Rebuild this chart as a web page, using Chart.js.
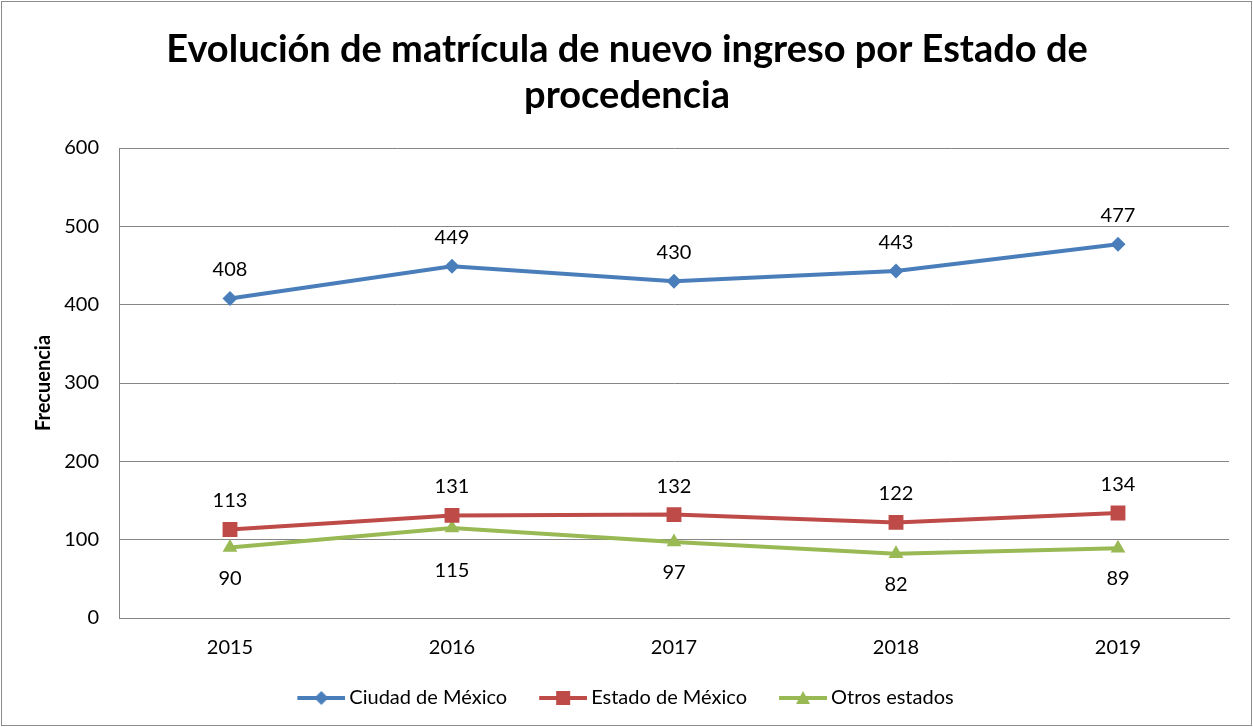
<!DOCTYPE html>
<html><head><meta charset="utf-8">
<script src="https://cdn.jsdelivr.net/npm/chart.js@4.4.1/dist/chart.umd.min.js"></script>
<style>html,body{margin:0;padding:0;background:#fff}#wrap{width:1253px;height:727px;position:relative}</style>
</head><body><div id="wrap"><canvas id="c" width="1253" height="727"></canvas></div>
<script>
const years = ['2015','2016','2017','2018','2019'];
const cdmx = [408, 449, 430, 443, 477];
const edomex = [113, 131, 132, 122, 134];
const otros = [90, 115, 97, 82, 89];
const seriesNames = ['Ciudad de México','Estado de México','Otros estados'];
const yTicks = [0,100,200,300,400,500,600];
const titleLines = ['Evolución de matrícula de nuevo ingreso por Estado de','procedencia'];
const yTitle = 'Frecuencia';

const FONT = 'Lato, "Open Sans", sans-serif';
const colors = ['#4a7ebb','#be4b48','#98b954'];
const styles = ['rectRot','rect','triangle'];
const radii = [7.5,10.5,8.5];
const BOXW = 64;
// manual label nudges (style only): dataset 2, point 1 label sits lower
const labelNudge = {'2-1': 12};

function legendImg(i){
  const W = BOXW + 12;
  const c = document.createElement('canvas');
  c.width = W; c.height = 18;
  const g = c.getContext('2d');
  const x0 = W - 48;
  g.strokeStyle = colors[i]; g.lineWidth = 4;
  g.beginPath(); g.moveTo(x0,9); g.lineTo(W,9); g.stroke();
  g.fillStyle = colors[i];
  const m = x0 + 24;
  g.beginPath();
  if (i===0){ g.moveTo(m,9-7); g.lineTo(m+7,9); g.lineTo(m,9+7); g.lineTo(m-7,9); }
  else if (i===1){ g.rect(m-7,9-7,14,14); }
  else { g.moveTo(m,9-7); g.lineTo(m+7,9+6); g.lineTo(m-7,9+6); }
  g.closePath(); g.fill();
  return c;
}

const frame = {
  id:'frame',
  beforeDraw(chart){
    const ctx = chart.ctx;
    ctx.save(); ctx.fillStyle='#fff'; ctx.fillRect(0,0,chart.width,chart.height);
    ctx.strokeStyle='#8c8c8c'; ctx.lineWidth=1;
    ctx.strokeRect(1.5,1.5,chart.width-3,chart.height-3);
    ctx.fillStyle='#000'; ctx.font='bold 38px ' + FONT;
    ctx.textAlign='center'; ctx.textBaseline='middle';
    titleLines.forEach((t,i)=>ctx.fillText(t, 627, 50 + i*46));
    ctx.restore();
  }
};
const labels = {
  id:'dlabels',
  afterDatasetsDraw(chart){
    const ctx = chart.ctx;
    ctx.save();
    ctx.font = '20px ' + FONT; ctx.fillStyle = '#000'; ctx.textAlign='center'; ctx.textBaseline='alphabetic';
    chart.data.datasets.forEach((ds,di)=>{
      const meta = chart.getDatasetMeta(di);
      meta.data.forEach((pt,j)=>{
        const v = ds.data[j];
        const n = labelNudge[di+'-'+j] || 0;
        if (di===2){ ctx.fillText(String(v), pt.x, pt.y+37+n); }
        else { ctx.fillText(String(v), pt.x, pt.y-22+n); }
      });
    });
    ctx.restore();
  }
};

const data = {
  labels: years,
  datasets: [cdmx, edomex, otros].map((d,i)=>({
    label: seriesNames[i], data: d,
    borderColor: colors[i], backgroundColor: colors[i],
    borderWidth: 4, pointStyle: styles[i], pointRadius: radii[i],
    pointHoverRadius: radii[i], pointBorderWidth: 0,
    pointBackgroundColor: colors[i], tension: 0
  }))
};

new Chart(document.getElementById('c'), {
  type:'line',
  data,
  options:{
    responsive:false, animation:false, devicePixelRatio:1,
    layout:{padding:{left:0,right:24,top:148,bottom:9}},
    plugins:{
      tooltip:{enabled:false},
      title:{display:false},
      legend:{position:'bottom', labels:{
        color:'#000', font:{family:FONT,size:20}, usePointStyle:true, pointStyleWidth:BOXW, boxHeight:18, padding:10,
        generateLabels(chart){
          return chart.data.datasets.map((ds,i)=>({
            text: ds.label, pointStyle: legendImg(i), fillStyle: colors[i],
            strokeStyle: colors[i], lineWidth:0, datasetIndex:i, hidden:false
          }));
        }
      }}
    },
    scales:{
      x:{ offset:true,
        grid:{display:false, drawTicks:false},
        border:{display:true,color:'#868686',width:1},
        ticks:{color:'#000', font:{family:FONT,size:20}, padding:18}
      },
      y:{ min:0, max:600,
        afterBuildTicks(s){ s.ticks = yTicks.map(v=>({value:v})); },
        afterFit(s){ s.width = 119; },
        grid:{color:'#868686', lineWidth:1, drawTicks:false},
        border:{display:true,color:'#868686',width:1},
        ticks:{color:'#000', font:{family:FONT,size:20}, padding:20},
        title:{display:true, text:yTitle, color:'#000', font:{family:FONT,size:20,weight:'bold'}, padding:{top:32,bottom:10}}
      }
    }
  },
  plugins:[frame, labels]
});
</script></body></html>
